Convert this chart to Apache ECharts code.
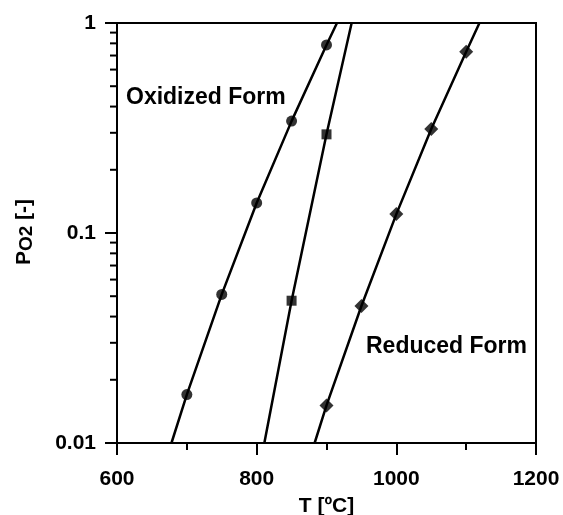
<!DOCTYPE html>
<html>
<head>
<meta charset="utf-8">
<script src="https://cdn.jsdelivr.net/npm/echarts@6/dist/echarts.min.js"></script>
<style>html,body{margin:0;padding:0;background:#fff}#c{width:563px;height:515px}</style>
</head>
<body>
<div id="c"></div>
<script>
// ---- data ----
var oxT = [700, 750, 800, 850, 900];
var oxP = [0.017, 0.051, 0.139, 0.341, 0.786];
var oxLineT = [678, 700, 750, 800, 850, 900, 915];
var oxLineP = [0.01, 0.017, 0.051, 0.139, 0.341, 0.786, 1];

var midT = [850, 900];
var midP = [0.0476, 0.295];
var midLineT = [811, 850, 900, 936];
var midLineP = [0.01, 0.0476, 0.295, 1];

var redT = [900, 950, 1000, 1050, 1100];
var redP = [0.0151, 0.0449, 0.123, 0.313, 0.730];
var redLineT = [883, 900, 950, 1000, 1050, 1100, 1119];
var redLineP = [0.01, 0.0151, 0.0449, 0.123, 0.313, 0.730, 1];

var xTicks = [600, 800, 1000, 1200];
var yTicks = [0.01, 0.1, 1];
var yMinorTicks = [0.02, 0.03, 0.04, 0.05, 0.06, 0.07, 0.08, 0.09, 0.2, 0.3, 0.4, 0.5, 0.6, 0.7, 0.8, 0.9];

function pairs(a, b) { return a.map(function (v, i) { return [v, b[i]]; }); }

var FONT = '"Liberation Sans", Arial, sans-serif';
var chart = echarts.init(document.getElementById('c'), null, { renderer: 'canvas' });

var lineStyle = { color: '#000', width: 2.5 };

chart.setOption({
  animation: false,
  backgroundColor: '#fff',
  grid: { left: 117, right: 27, top: 23, bottom: 72, show: true, borderColor: '#000', borderWidth: 2,
    backgroundColor: 'transparent', containLabel: false, outerBoundsMode: 'none' },
  xAxis: {
    type: 'value', min: xTicks[0], max: xTicks[xTicks.length - 1], interval: 200,
    name: 'T [ºC]', nameLocation: 'middle', nameGap: 53,
    nameTextStyle: { fontFamily: FONT, fontWeight: 'bold', fontSize: 21, color: '#000' },
    axisLine: { lineStyle: { color: '#000', width: 2 } },
    axisTick: { length: 12, lineStyle: { color: '#000', width: 2 } },
    minorTick: { show: true, splitNumber: 2, length: 7, lineStyle: { color: '#000', width: 2 } },
    splitLine: { show: false },
    axisLabel: { margin: 26, fontFamily: FONT, fontWeight: 'bold', fontSize: 21, color: '#000',
      formatter: function (v) { return String(v); } }
  },
  yAxis: {
    type: 'log', logBase: 10, min: yTicks[0], max: yTicks[yTicks.length - 1],
    axisLine: { show: true, lineStyle: { color: '#000', width: 2 } },
    axisTick: { show: true, length: 12, lineStyle: { color: '#000', width: 2 } },
    splitLine: { show: false },
    axisLabel: { margin: 21, fontFamily: FONT, fontWeight: 'bold', fontSize: 21, color: '#000',
      formatter: function (v) { return String(+v.toPrecision(6)); } }
  },
  graphic: [
    { type: 'text', left: 126, top: 86, style: { text: 'Oxidized Form', font: 'bold 23px ' + FONT, fill: '#000' } },
    { type: 'text', left: 366, top: 335, style: { text: 'Reduced Form', font: 'bold 23px ' + FONT, fill: '#000' } },
    { type: 'text', x: 24, y: 232, rotation: Math.PI / 2,
      style: {
        text: '{p|P}{s|O2}{p| [-]}', align: 'center', verticalAlign: 'middle',
        rich: {
          p: { fontFamily: FONT, fontWeight: 'bold', fontSize: 21, lineHeight: 24, fill: '#000', verticalAlign: 'middle' },
          s: { fontFamily: FONT, fontWeight: 'bold', fontSize: 19, lineHeight: 6, fill: '#000', verticalAlign: 'bottom' }
        }
      } }
  ],
  series: [
    { type: 'line', data: pairs(oxLineT, oxLineP), showSymbol: false, lineStyle: lineStyle, silent: true },
    { type: 'line', data: pairs(midLineT, midLineP), showSymbol: false, lineStyle: lineStyle, silent: true },
    { type: 'line', data: pairs(redLineT, redLineP), showSymbol: false, lineStyle: lineStyle, silent: true },
    { type: 'scatter', data: pairs(oxT, oxP), symbol: 'circle', symbolSize: 11, itemStyle: { color: '#000' }, z: 5 },
    { type: 'scatter', data: pairs(midT, midP), symbol: 'rect', symbolSize: 10, itemStyle: { color: '#000' }, z: 5 },
    { type: 'scatter', data: pairs(redT, redP), symbol: 'diamond', symbolSize: 14, itemStyle: { color: '#000' }, z: 5 },
    { type: 'custom', silent: true, z: 4,
      data: yMinorTicks.map(function (v) { return [xTicks[0], v]; }),
      renderItem: function (params, api) {
        var p = api.coord([api.value(0), api.value(1)]);
        return { type: 'line', shape: { x1: p[0] - 7, y1: p[1], x2: p[0], y2: p[1] }, style: { stroke: '#000', lineWidth: 2 } };
      } }
  ]
});
</script>
</body>
</html>
